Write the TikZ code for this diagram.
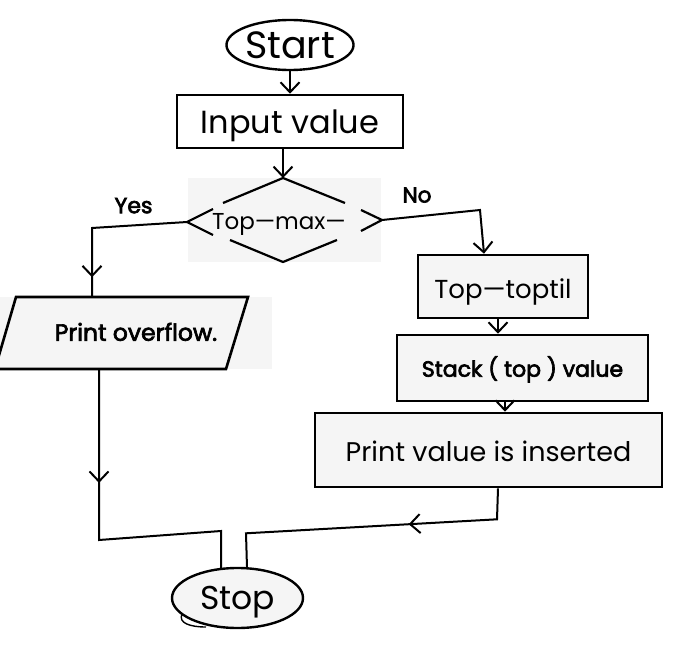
\documentclass[tikz,border=0pt]{standalone}
\usepackage{fontspec}
\setmainfont{Poppins}
\newfontfamily\semib{Poppins}[FakeBold=3]
\usetikzlibrary{shapes.geometric,arrows.meta,decorations.markings,calc}
\definecolor{bgg}{RGB}{245,245,245}
\begin{document}
\begin{tikzpicture}[x=1pt,y=-1pt,
  box/.style={draw,line width=2.6pt,inner sep=0pt,fill=bgg},
  term/.style={ellipse,draw,line width=2.4pt,inner sep=0pt},
  conn/.style={line width=2pt},
  tip/.style={-{Straight Barb[length=10pt,width=19pt,line width=2pt]}},
  midarrow/.style={postaction={decorate,decoration={markings,mark=at position #1 with {\arrow{Straight Barb[length=10pt,width=19pt,line width=2pt]}}}}},
  fs/.style={font=\fontsize{#1}{#1}\selectfont,text depth=0pt},
  fsb/.style={font=\fontsize{#1}{#1}\selectfont\semib,text depth=0pt}
]
\useasboundingbox (0,0) rectangle (685,655);
\fill[white] (0,0) rectangle (685,655);

% terminals and boxes
\node[term,fill=white,minimum width=126pt,minimum height=50pt,fs=38,text height=26.6pt] (start) at (290,45) {Start};
\node[box,fill=white,minimum width=226pt,minimum height=53pt,fs=32,text height=24.4pt] (input) at (290,121.5) {Input value};

% decision
\fill[bgg] (188,178) rectangle (381,262);
\coordinate (dt) at (283,178);
\coordinate (db) at (283,262);
\coordinate (dl) at (187,222);
\coordinate (dr) at (382,220);
\draw[line width=2.2pt] (223,203) -- (dt) -- (345,203);
\draw[line width=2.2pt] (230,240) -- (db) -- (337,240);
\draw[line width=2.2pt] (213,209) -- (dl) -- (213,235);
\draw[line width=2.2pt] (361,210) -- (dr) -- (361,231);
\node[fs=23,text height=16.1pt] (dec) at (279,221) {Top—max—};

\node[fsb=22,text height=15.4pt] (yes) at (133.5,205.5) {Yes};
\node[fsb=21.5,text height=15pt] (no) at (417,195) {No};

% output parallelogram
\fill[bgg] (0,297) rectangle (272,369);
\draw[line width=2.6pt,fill=bgg] (16,297) -- (248,297) -- (226,369) -- (-5,369) -- cycle;
\node[fsb=23.5,text height=16.5pt] (ovf) at (136,332.5) {Print overflow.};
\coordinate (ovtop) at (92,297);
\coordinate (ovbot) at (99,369);

% process boxes
\node[box,minimum width=170pt,minimum height=63pt,fs=26,text height=23.2pt] (toptil) at (503,286.5) {Top—toptil};
\node[box,minimum width=251pt,minimum height=66pt,fsb=22,text height=17.4pt] (stack) at (522.5,368) {Stack ( top ) value};
\node[box,minimum width=347pt,minimum height=74pt,fs=27,text height=23.9pt] (pv) at (488.5,450) {Print value is inserted};

\node[term,fill=bgg,minimum width=131pt,minimum height=60pt,fs=33,text height=23.1pt] (stop) at (237.5,598) {Stop};
\draw[line width=1.4pt] (182,614) .. controls (178,623) and (190,627) .. (206,627);

% connectors
\draw[conn,tip] (start.south) -- (input.north);
\draw[conn,tip] (input.south -| dt) -- (dt);
\draw[conn,midarrow=0.88] (dl) -- ++(-95,6) -- (ovtop);
\coordinate (nt) at ($(toptil.north)+(-19,0)$);
\draw[conn,tip] (dr) -- ++(98,-10) -- (nt);
\coordinate (ts) at ($(toptil.south)+(-5,0)$);
\draw[conn,tip] (ts) -- (ts |- stack.north);
\coordinate (ss) at ($(stack.south)+(-17.5,0)$);
\draw[conn,tip] (ss) -- (ss |- pv.north);
\draw[conn,midarrow=0.377] ($(pv.south)+(9.5,0)$) -- ++(-1,31) -- ++(-251,14) -- ($(stop.north)+(9.5,1)$);
\draw[conn,midarrow=0.345] (ovbot) -- ++(0,171) -- ++(122,-9) -- ($(stop.north)+(-16.5,1)$);
\end{tikzpicture}
\end{document}
